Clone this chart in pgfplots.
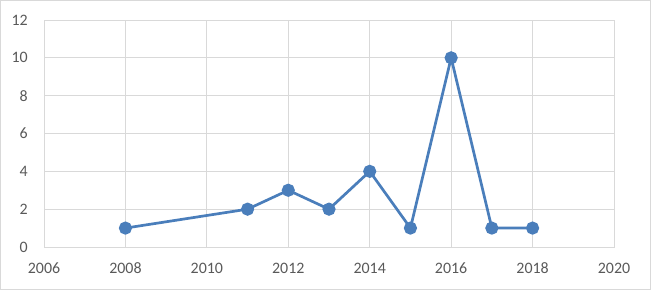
\documentclass[border=0pt]{standalone}
\usepackage{pgfplots}
\pgfplotsset{compat=1.18}
\usepackage{fontspec}
\setmainfont{Carlito}
\definecolor{gridc}{HTML}{D9D9D9}
\definecolor{labc}{HTML}{595959}
\definecolor{linec}{HTML}{4A7EBB}
\begin{document}
\begin{tikzpicture}[x=1bp,y=1bp]
\draw[gridc, line width=1.2bp] (0.6,0.6) rectangle (650.4,289.4);
\begin{axis}[
  at={(44bp,43bp)}, anchor=south west,
  scale only axis, width=570bp, height=227bp,
  xmin=2006, xmax=2020, ymin=0, ymax=12,
  xtick={2006,2008,...,2020}, ytick={0,2,...,12},
  grid=major, grid style={gridc, line width=0.9bp},
  axis line style={gridc, line width=0.9bp},
  major tick length=0pt,
  tick label style={font=\fontsize{16}{18}\selectfont, text=labc, inner sep=0pt},
  /pgf/number format/assume math mode=true,
  /pgf/number format/1000 sep={},
  xticklabel style={anchor=center, yshift=-21bp},
  yticklabel style={anchor=east, xshift=-16bp},
]
\addplot[linec, line width=2.7bp, mark=*, mark size=5.2bp, mark options={solid, fill=linec, draw=none}]
coordinates {(2008,1) (2011,2) (2012,3) (2013,2) (2014,4) (2015,1) (2016,10) (2017,1) (2018,1)};
\end{axis}
\end{tikzpicture}
\end{document}
